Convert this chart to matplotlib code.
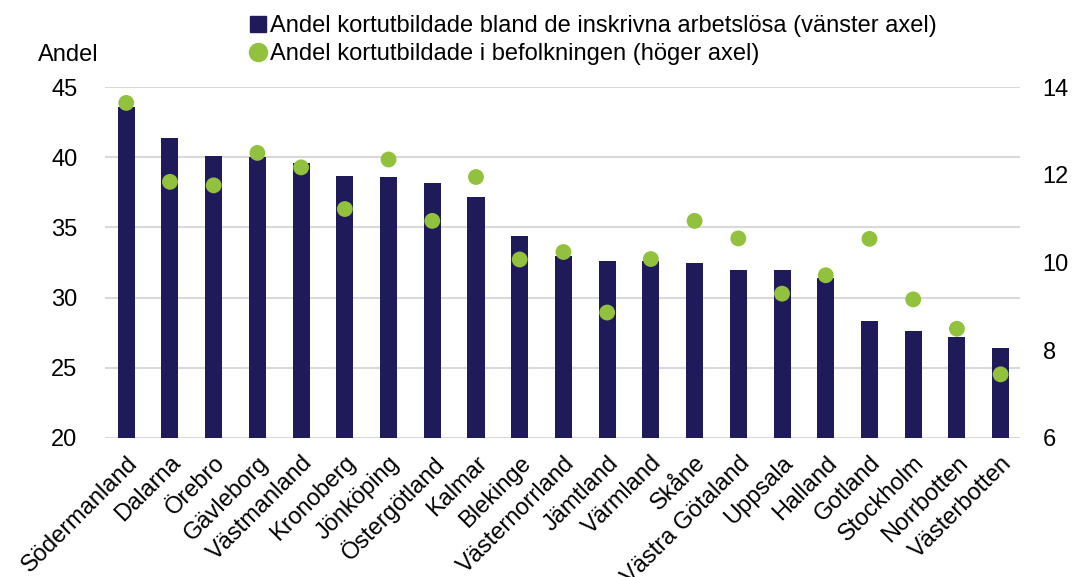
import matplotlib
matplotlib.use("Agg")
import matplotlib.pyplot as plt
from matplotlib.lines import Line2D

plt.rcParams['font.family'] = ['Liberation Sans', 'DejaVu Sans']

regions = ["Södermanland", "Dalarna", "Örebro", "Gävleborg", "Västmanland", "Kronoberg",
           "Jönköping", "Östergötland", "Kalmar", "Blekinge", "Västernorrland", "Jämtland",
           "Värmland", "Skåne", "Västra Götaland", "Uppsala", "Halland", "Gotland",
           "Stockholm", "Norrbotten", "Västerbotten"]
share_unemployed = [43.6, 41.4, 40.1, 40.0, 39.6, 38.7, 38.6, 38.2, 37.2, 34.4, 33.0, 32.6,
                    32.6, 32.5, 32.0, 32.0, 31.4, 28.3, 27.6, 27.2, 26.4]
share_population = [13.64, 11.84, 11.76, 12.50, 12.17, 11.22, 12.35, 10.95, 11.95, 10.07, 10.24,
                    8.86, 10.08, 10.95, 10.55, 9.29, 9.71, 10.54, 9.16, 8.49, 7.45]
left_ticks = [20, 25, 30, 35, 40, 45]
right_ticks = [6, 8, 10, 12, 14]

bar_color = "#1f1a5a"
dot_color = "#92c13e"
fs = 17

fig = plt.figure(figsize=(10.74, 5.77), dpi=100)
ax = fig.add_axes([0.098, 0.241, 0.852, 0.608])
x = list(range(len(regions)))
ax.bar(x, [v - 20 for v in share_unemployed], bottom=20, width=0.39, color=bar_color, zorder=3)
ax.set_ylim(20, 45)
ax.set_xlim(-0.48, 20.45)
ax.set_yticks(left_ticks)
ax.grid(axis='y', color='#d9d9d9', linewidth=1.5, zorder=0)
for s in ax.spines.values():
    s.set_visible(False)
ax.tick_params(axis='both', length=0, labelsize=fs)
ax.tick_params(axis='y', pad=20)
ax.set_xticks(x)
ax.set_xticklabels(regions, rotation=45, ha='right', rotation_mode='anchor', fontsize=fs)
ax.tick_params(axis='x', pad=10)

ax2 = ax.twinx()
ax2.scatter(x, share_population, s=130, color=dot_color, zorder=4, edgecolors='none')
ax2.set_ylim(6, 14)
ax2.set_yticks(right_ticks)
for s in ax2.spines.values():
    s.set_visible(False)
ax2.tick_params(axis='y', length=0, labelsize=fs, pad=16)

fig.text(0.035, 0.905, "Andel", fontsize=fs, ha='left', va='center')

handles = [
    Line2D([], [], marker='s', linestyle='none', color=bar_color, markersize=12),
    Line2D([], [], marker='o', linestyle='none', color=dot_color, markersize=13),
]
labels = ["Andel kortutbildade bland de inskrivna arbetslösa (vänster axel)",
          "Andel kortutbildade i befolkningen (höger axel)"]
fig.legend(handles, labels, loc='upper left', bbox_to_anchor=(0.222, 0.99), frameon=False,
           fontsize=fs, handletextpad=0.05, labelspacing=0.25, handlelength=0.9, borderaxespad=0)

fig.savefig("out.png", dpi=100)
